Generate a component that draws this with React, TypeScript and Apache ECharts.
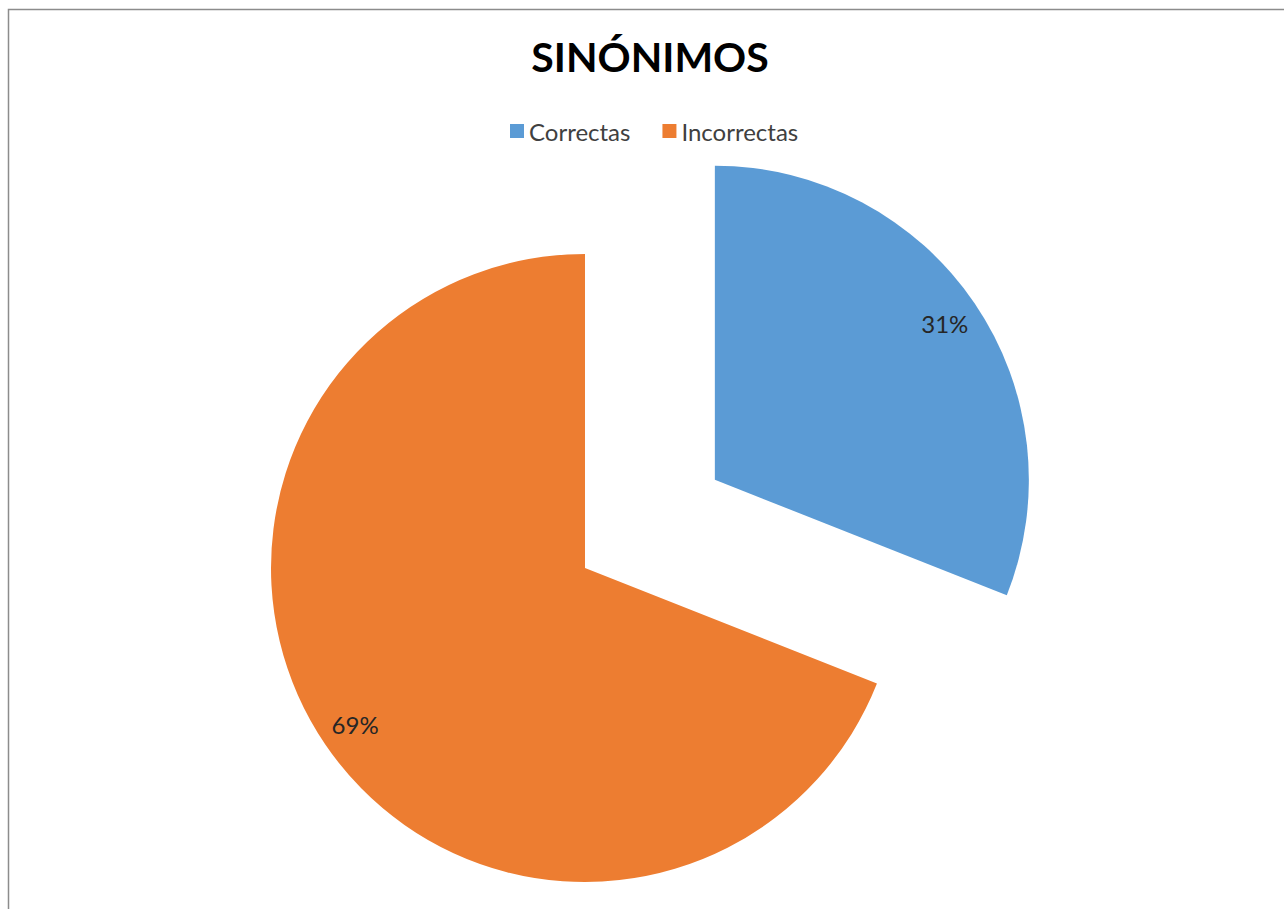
import React, { useEffect, useRef } from "react";
import * as echarts from "echarts";

const categories = ["Correctas", "Incorrectas"];
const values = [31, 69];
const colors = ["#5B9BD5", "#ED7D31"];
const titleText = "SINÓNIMOS";

export default function App() {
  const ref = useRef<HTMLDivElement>(null);
  useEffect(() => {
    if (!ref.current) return;
    const chart = echarts.init(ref.current, undefined, { renderer: "svg" });
    const data = categories.map((name, i) => ({
      name,
      value: values[i],
      selected: i === 0,
      itemStyle: { color: colors[i] },
    }));
    const labelData = categories.map((name, i) => ({
      name,
      value: values[i],
      selected: i === 0,
      itemStyle: { color: "rgba(0,0,0,0)" },
    }));
    chart.setOption({
      animation: false,
      backgroundColor: "#ffffff",
      title: {
        text: titleText,
        left: "center",
        top: 31,
        textStyle: {
          fontFamily: "Lato",
          fontWeight: "bold",
          fontSize: 41,
          color: "#000000",
        },
      },
      legend: {
        data: categories,
        top: 114,
        left: 505,
        icon: "rect",
        itemWidth: 14,
        itemHeight: 14,
        itemGap: 32,
        selectedMode: false,
        textStyle: { fontFamily: "Lato", fontSize: 24, color: "#404040" },
      },
      graphic: [
        {
          type: "rect",
          shape: { x: 8.5, y: 9.5, width: 1400, height: 1000 },
          style: { fill: "none", stroke: "#8c8c8c", lineWidth: 1.5 },
          silent: true,
        },
      ],
      series: [
        {
          type: "pie",
          center: [585, 568],
          radius: 314,
          startAngle: 90,
          clockwise: true,
          selectedMode: "single",
          selectedOffset: 157,
          label: { show: false },
          labelLine: { show: false },
          emphasis: { disabled: true },
          silent: true,
          data,
        },
        {
          type: "pie",
          center: [585, 568],
          radius: [236, 314],
          startAngle: 90,
          clockwise: true,
          selectedMode: "single",
          selectedOffset: 157,
          silent: true,
          emphasis: { disabled: true },
          label: {
            show: true,
            position: "inside",
            formatter: "{d}%",
            fontFamily: "Lato",
            fontSize: 24,
            color: "#262626",
          },
          labelLine: { show: false },
          data: labelData,
        },
      ],
    });
    return () => chart.dispose();
  }, []);
  return (
    <div style={{ position: "fixed", left: 0, top: 0, width: 1284, height: 909, overflow: "hidden" }}>
      <div ref={ref} style={{ width: 1300, height: 909 }} />
    </div>
  );
}
